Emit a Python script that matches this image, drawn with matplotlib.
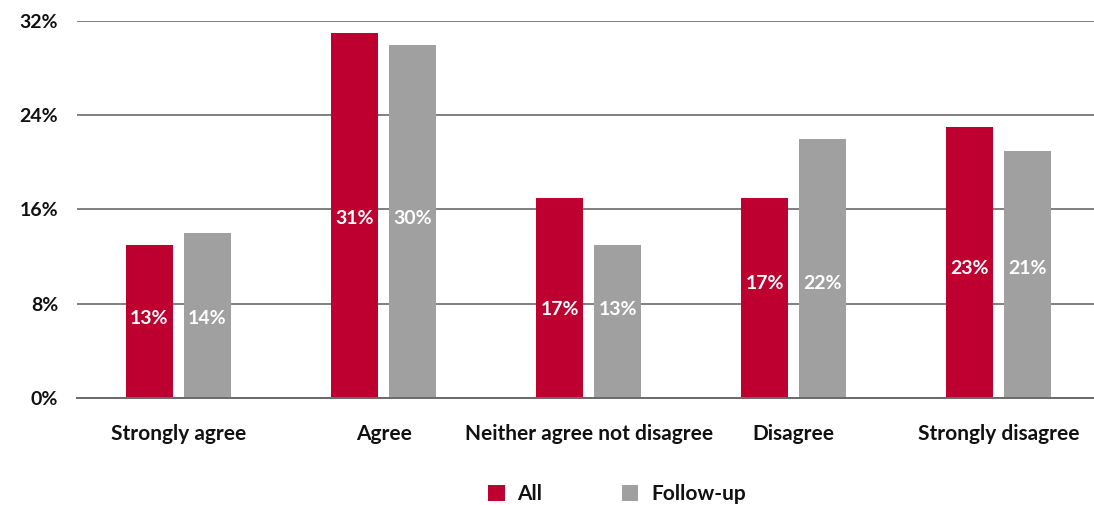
"""
Grouped bar chart: agreement levels, all respondents vs follow-up
"""

import matplotlib.pyplot as plt
import numpy as np
from matplotlib.patches import Patch

plt.rcParams['font.family'] = ['Lato', 'DejaVu Sans']

categories = ['Strongly agree', 'Agree', 'Neither agree not disagree',
              'Disagree', 'Strongly disagree']
all_pct = [13, 31, 17, 17, 23]
followup_pct = [14, 30, 13, 22, 21]
series_names = ['All', 'Follow-up']
yticks = [0, 8, 16, 24, 32]

RED = '#be0030'
GREY = '#a0a0a0'
GRID = '#7f7f7f'
TEXT = '#111111'
FS = 15


def plot_bars():
    fig = plt.figure(figsize=(10.94, 5.05), dpi=100)
    ax = fig.add_axes([0.0704, 0.2119, 0.9296, 0.7465])

    x = np.arange(len(categories))
    width = 0.23
    offset = 0.1415
    ax.bar(x - offset, all_pct, width, color=RED, zorder=3)
    ax.bar(x + offset, followup_pct, width, color=GREY, zorder=3)

    # value labels sit halfway up the group's average height
    for i in range(len(categories)):
        ly = (all_pct[i] + followup_pct[i]) / 4
        ax.text(x[i] - offset, ly, f'{all_pct[i]}%', color='white',
                ha='center', va='center', fontsize=14, fontweight='bold', zorder=4)
        ax.text(x[i] + offset, ly, f'{followup_pct[i]}%', color='white',
                ha='center', va='center', fontsize=14, fontweight='bold', zorder=4)

    ax.set_xlim(-0.495, 4.465)
    ax.set_ylim(0, 32)
    ax.set_yticks(yticks)
    ax.set_yticklabels([f'{t}%' for t in yticks], fontsize=14,
                       fontweight='bold', color=TEXT)
    ax.set_xticks(x)
    ax.set_xticklabels(categories, fontsize=FS, fontweight='bold', color=TEXT)
    ax.tick_params(axis='both', length=0)
    ax.tick_params(axis='y', pad=13.5)
    ax.tick_params(axis='x', pad=19)

    ax.grid(axis='y', color=GRID, linewidth=1.4, zorder=1)
    for side in ['top', 'right', 'left']:
        ax.spines[side].set_visible(False)
    ax.spines['bottom'].set_color('#6a6a6a')
    ax.spines['bottom'].set_linewidth(1.4)
    ax.spines['bottom'].set_zorder(5)

    handles = [Patch(facecolor=RED), Patch(facecolor=GREY)]
    leg = fig.legend(handles, series_names, loc='center', ncol=2,
                     bbox_to_anchor=(0.564, 0.022), frameon=False,
                     handlelength=0.8, handleheight=0.8, handletextpad=0.62,
                     columnspacing=3.8,
                     prop={'family': ['Lato', 'DejaVu Sans'], 'size': FS,
                           'weight': 'bold'})
    for t in leg.get_texts():
        t.set_color(TEXT)

    fig.savefig('out.png', dpi=100)


if __name__ == '__main__':
    plot_bars()
